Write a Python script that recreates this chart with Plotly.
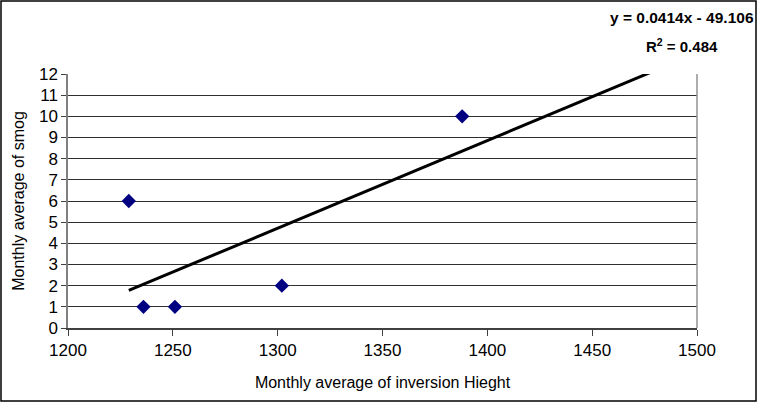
import plotly.graph_objects as go

inversion_height = [1229, 1236, 1251, 1302, 1388]
smog = [6, 1, 1, 2, 10]
slope = 0.0414
intercept = -49.106
r_squared = 0.484
trend_x = [1229, 1500]
trend_y = [slope * v + intercept for v in trend_x]

L, R, T, B = 68, 60, 74, 74
PW, PH = 757 - L - R, 402 - T - B

fig = go.Figure()
fig.add_trace(go.Scatter(x=trend_x, y=trend_y, mode="lines",
                         line=dict(color="black", width=3), showlegend=False))
fig.add_trace(go.Scatter(x=inversion_height, y=smog, mode="markers",
                         marker=dict(symbol="diamond", size=11, color="#000080"),
                         showlegend=False))

fig.update_layout(
    width=757, height=402,
    margin=dict(l=L, r=R, t=T, b=B, autoexpand=False),
    paper_bgcolor="white", plot_bgcolor="white",
    font=dict(family="Arial, Liberation Sans", size=17, color="black"),
    xaxis=dict(range=[1200, 1500], dtick=50, tick0=1200, showgrid=False, automargin=False,
               showline=True, linecolor="#404040", linewidth=1.5,
               ticks="outside", ticklen=6, tickcolor="#404040",
               tickfont=dict(size=17),
               mirror=False, zeroline=False,
               title=dict(text="Monthly average of inversion Hieght", font=dict(size=16), standoff=18)),
    yaxis=dict(range=[0, 12], dtick=1, tick0=0, showgrid=True, gridcolor="#303030", automargin=False,
               gridwidth=1, showline=True, linecolor="#808080", linewidth=1.5,
               ticks="outside", ticklen=5, tickcolor="#404040", zeroline=False,
               tickfont=dict(size=17),
               title=dict(text="Monthly average of smog", font=dict(size=16), standoff=10)),
    shapes=[
        dict(type="line", xref="paper", yref="paper", x0=1, x1=1, y0=0, y1=1,
             line=dict(color="#909090", width=1.5)),
        dict(type="rect", xref="paper", yref="paper", x0=-(L - 1) / PW, x1=1 + (R - 1) / PW,
             y0=-(B - 1) / PH, y1=1 + (T - 1) / PH, line=dict(color="black", width=1.5)),
    ],
    annotations=[
        dict(text="<b>y = %.4fx - %.3f</b>" % (slope, -intercept), xref="paper", yref="paper",
             x=1 + 59 / PW, y=1 + 56 / PH, xanchor="right", yanchor="middle", showarrow=False,
             font=dict(family="Liberation Sans", size=15.5)),
        dict(text="<b>R<sup>2</sup> = %.3f</b>" % r_squared, xref="paper", yref="paper",
             x=1 + 23 / PW, y=1 + 29 / PH, xanchor="right", yanchor="middle", showarrow=False,
             font=dict(family="Liberation Sans", size=15)),
    ],
)

fig.write_html("out.html", config={"displayModeBar": False},
               post_script="document.body.style.margin='0px';")
